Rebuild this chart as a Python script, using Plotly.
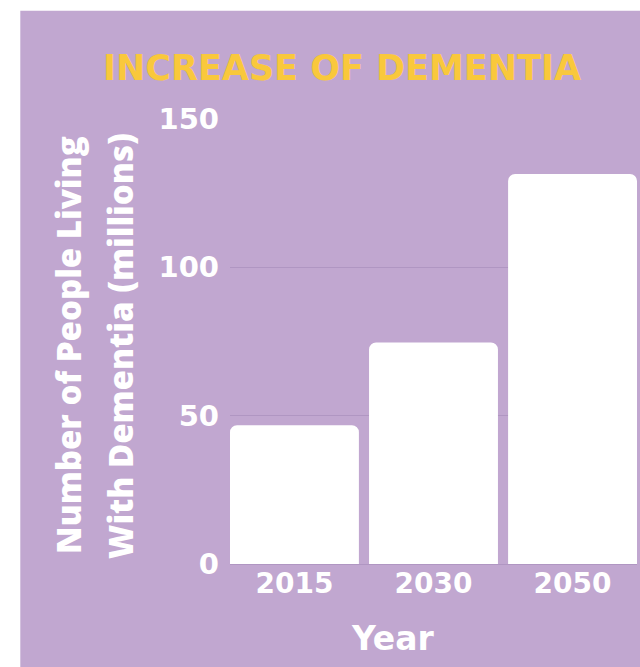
import plotly.graph_objects as go

# ---- data ----
years = ["2015", "2030", "2050"]
people_millions = [46.8, 74.7, 131.5]
y_tick_vals = [0, 50, 100, 150]
chart_title = "INCREASE OF DEMENTIA"
y_title_lines = ["Number of People Living", "With Dementia (millions)"]
x_title = "Year"

# ---- geometry (pixels) ----
W, H = 640, 667
L, R, T, B = 229.7, 3.3, 119.3, 102.5
PW, PH = W - L - R, H - T - B


def px_x(sx):
    return (sx - L) / PW


def px_y(sy):
    return (H - B - sy) / PH


PURPLE = "#C1A7D0"
GRID = "#B096C2"
YELLOW = "#F9C83C"

fig = go.Figure(
    go.Bar(
        x=years,
        y=people_millions,
        width=0.927,
        marker=dict(color="white", line=dict(width=0)),
        hoverinfo="skip",
    )
)

fig.update_layout(
    width=W,
    height=H,
    margin=dict(l=L, r=R, t=T, b=B, pad=0),
    paper_bgcolor="white",
    plot_bgcolor=PURPLE,
    barcornerradius=7,
    showlegend=False,
    title=dict(
        text=chart_title,
        x=342 / W,
        xanchor="center",
        y=1 - 68 / H,
        yanchor="middle",
        font=dict(family="DejaVu Sans", size=35, weight="bold", color=YELLOW),
    ),
    xaxis=dict(
        type="category",
        range=[-0.4635, 2.4635],
        showgrid=False,
        zeroline=False,
        showline=False,
        ticks="",
        ticklabelstandoff=0,
        tickfont=dict(family="DejaVu Sans", size=28, weight="bold", color="white"),
        fixedrange=True,
    ),
    yaxis=dict(
        range=[0, 150],
        tickvals=y_tick_vals,
        showgrid=True,
        gridcolor=GRID,
        gridwidth=1,
        zeroline=True,
        zerolinecolor=GRID,
        zerolinewidth=1,
        showline=False,
        ticks="",
        ticklabelstandoff=10,
        tickfont=dict(family="DejaVu Sans", size=29, weight="bold", color="white"),
        fixedrange=True,
    ),
    shapes=[
        dict(
            type="rect",
            xref="paper",
            yref="paper",
            x0=px_x(20),
            x1=px_x(660),
            y0=px_y(690),
            y1=px_y(11),
            fillcolor=PURPLE,
            line=dict(width=0),
            layer="below",
        )
    ],
    annotations=[
        dict(
            text=y_title_lines[0],
            textangle=-90,
            xref="paper",
            yref="paper",
            x=px_x(68),
            y=px_y(345),
            xanchor="center",
            yanchor="middle",
            showarrow=False,
            font=dict(family="Open Sans", size=33, weight=800, color="white"),
        ),
        dict(
            text=y_title_lines[1],
            textangle=-90,
            xref="paper",
            yref="paper",
            x=px_x(120),
            y=px_y(346),
            xanchor="center",
            yanchor="middle",
            showarrow=False,
            font=dict(family="Open Sans", size=33, weight=800, color="white"),
        ),
        dict(
            text=x_title,
            xref="paper",
            yref="paper",
            x=px_x(393),
            y=px_y(639),
            xanchor="center",
            yanchor="middle",
            showarrow=False,
            font=dict(family="DejaVu Sans", size=33, weight="bold", color="white"),
        ),
    ],
)

fig.write_html(
    "out.html",
    config={"displayModeBar": False},
    post_script="document.body.style.margin='0';document.body.style.overflow='hidden';",
)
